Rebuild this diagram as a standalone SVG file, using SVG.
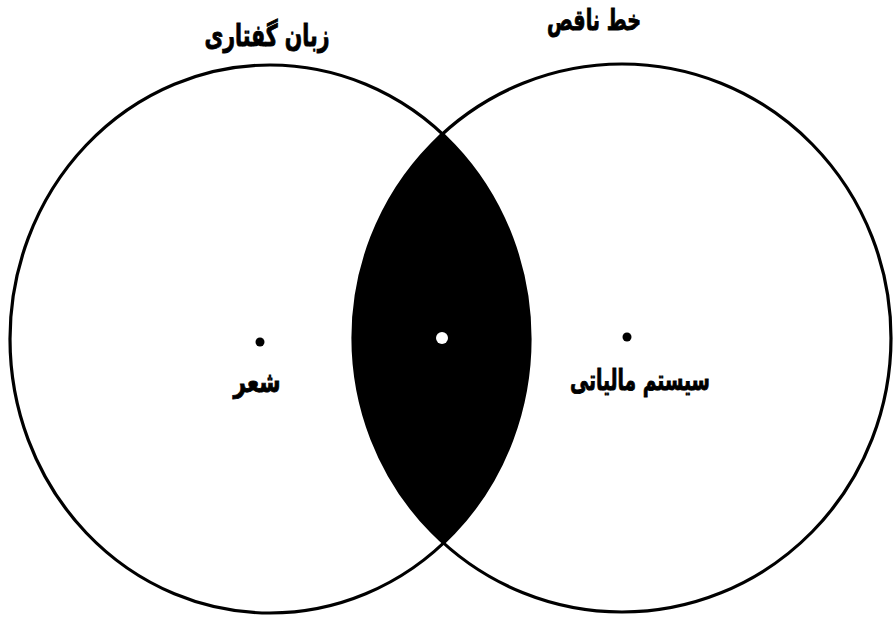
<svg xmlns="http://www.w3.org/2000/svg" width="893" height="617" viewBox="0 0 893 617">
<style>
.c{fill:none;stroke:#000;stroke-width:3.2}
.t{font-family:"DejaVu Sans",sans-serif;font-weight:bold;fill:#000;stroke:#000;stroke-width:0.9;text-anchor:middle}
</style>
<defs>
<clipPath id="clipL"><ellipse cx="270" cy="339" rx="260" ry="274"/></clipPath>
</defs>
<rect width="893" height="617" fill="#fff"/>
<g id="lens">
<ellipse cx="622" cy="338" rx="269" ry="274" fill="#000" clip-path="url(#clipL)"/>
</g>
<g id="connectors"></g>
<g id="left-circle">
<ellipse class="c" cx="270" cy="339" rx="260" ry="274"/>
<circle cx="260" cy="342" r="4.5" fill="#000"/>
<text class="t" x="257" y="392" font-size="29" textLength="47" lengthAdjust="spacingAndGlyphs" direction="rtl">شعر</text>
</g>
<g id="right-circle">
<ellipse class="c" cx="622" cy="338" rx="269" ry="274"/>
<circle cx="627" cy="337" r="4.5" fill="#000"/>
<text class="t" x="640" y="390" font-size="29" textLength="140" lengthAdjust="spacingAndGlyphs" direction="rtl">سیستم مالیاتی</text>
</g>
<g id="center">
<circle cx="442" cy="338" r="6" fill="#fff"/>
</g>
<g id="labels">
<text class="t" x="267" y="46" font-size="30" textLength="125" lengthAdjust="spacingAndGlyphs" direction="rtl">زبان گفتاری</text>
<text class="t" x="594" y="30" font-size="29" textLength="94" lengthAdjust="spacingAndGlyphs" direction="rtl">خط ناقص</text>
</g>
</svg>
